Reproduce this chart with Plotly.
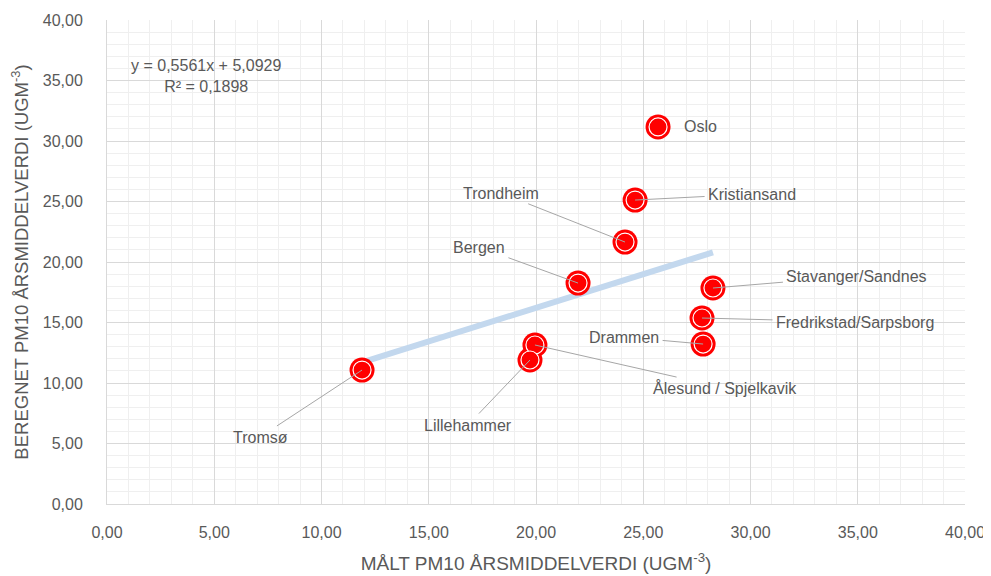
import plotly.graph_objects as go

cities = ["Oslo", "Kristiansand", "Trondheim", "Bergen", "Stavanger/Sandnes",
          "Fredrikstad/Sarpsborg", "Drammen", "Ålesund / Spjelkavik", "Lillehammer", "Tromsø"]
maalt = [25.69, 24.62, 24.15, 21.96, 28.25, 27.74, 27.79, 19.95, 19.72, 11.89]
beregnet = [31.16, 25.12, 21.65, 18.26, 17.85, 15.37, 13.22, 13.14, 11.90, 11.07]

slope = 0.5561
intercept = 5.0929
r2 = 0.1898

# label offsets in pixels (text centre relative to point), leader line shown?
label_dx = [42, 117, -124, -99, 144, 153, -79, 190, -62, -102]
label_dy = [0, -6, -49, -36, -12, 4, -7, 43, 65, 67]
leader = [False, True, True, True, True, True, True, True, True, True]

TXT = "#595959"
FONT = "Liberation Sans"

fig = go.Figure()

xmin, xmax = min(maalt), max(maalt)
fig.add_trace(go.Scatter(
    x=[xmin, xmax], y=[slope * xmin + intercept, slope * xmax + intercept],
    mode="lines", line=dict(color="#c3d8ee", width=6), hoverinfo="skip", showlegend=False))

fig.add_trace(go.Scatter(
    x=maalt, y=beregnet, mode="markers",
    marker=dict(size=25, color="#ff0000", line=dict(width=0)),
    showlegend=False, hoverinfo="skip"))
fig.add_trace(go.Scatter(
    x=maalt, y=beregnet, mode="markers", text=cities,
    marker=dict(size=18, color="#ff0000", line=dict(width=1.2, color="white")),
    showlegend=False))

for c, xv, yv, dx, dy, ld in zip(cities, maalt, beregnet, label_dx, label_dy, leader):
    fig.add_annotation(
        x=xv, y=yv, text=c, showarrow=True, ax=dx, ay=dy,
        arrowhead=0, arrowwidth=1, standoff=0, startstandoff=2,
        arrowcolor="#a6a6a6" if ld else "rgba(0,0,0,0)",
        font=dict(family=FONT, size=16, color=TXT))

fig.add_annotation(
    x=0.115, y=0.885, xref="paper", yref="paper", showarrow=False, align="center",
    xanchor="center", yanchor="middle",
    text=f"y = {str(slope).replace('.', ',')}x + {str(intercept).replace('.', ',')}<br>R² = {str(r2).replace('.', ',')}",
    font=dict(family=FONT, size=16, color=TXT))

axis_common = dict(
    range=[0, 40], dtick=5, tickformat=".2f", automargin=False,
    showgrid=True, gridcolor="#d9d9d9", gridwidth=1,
    minor=dict(dtick=1, showgrid=True, gridcolor="#efefef", gridwidth=1),
    zeroline=False, showline=True, linecolor="#d9d9d9", linewidth=1,
    ticks="", tickfont=dict(family=FONT, size=16, color=TXT), fixedrange=True)

fig.update_xaxes(**axis_common, ticklabelstandoff=14,
                 title=dict(text="MÅLT PM10 ÅRSMIDDELVERDI (UGM<sup>-3</sup>)",
                            font=dict(family=FONT, size=19, color=TXT), standoff=16))
fig.update_yaxes(**axis_common, ticklabelstandoff=20,
                 title=dict(text="BEREGNET PM10 ÅRSMIDDELVERDI (UGM<sup>-3</sup>)",
                            font=dict(family=FONT, size=18.5, color=TXT), standoff=10))

# the page adds an 8px body margin, so the figure is sized to fit the window
fig.update_layout(
    width=983, height=568, separators=", ",
    margin=dict(l=99, r=26, t=12, b=72),
    paper_bgcolor="white", plot_bgcolor="white",
    font=dict(family=FONT, color=TXT))

fig.write_html("out.html")
